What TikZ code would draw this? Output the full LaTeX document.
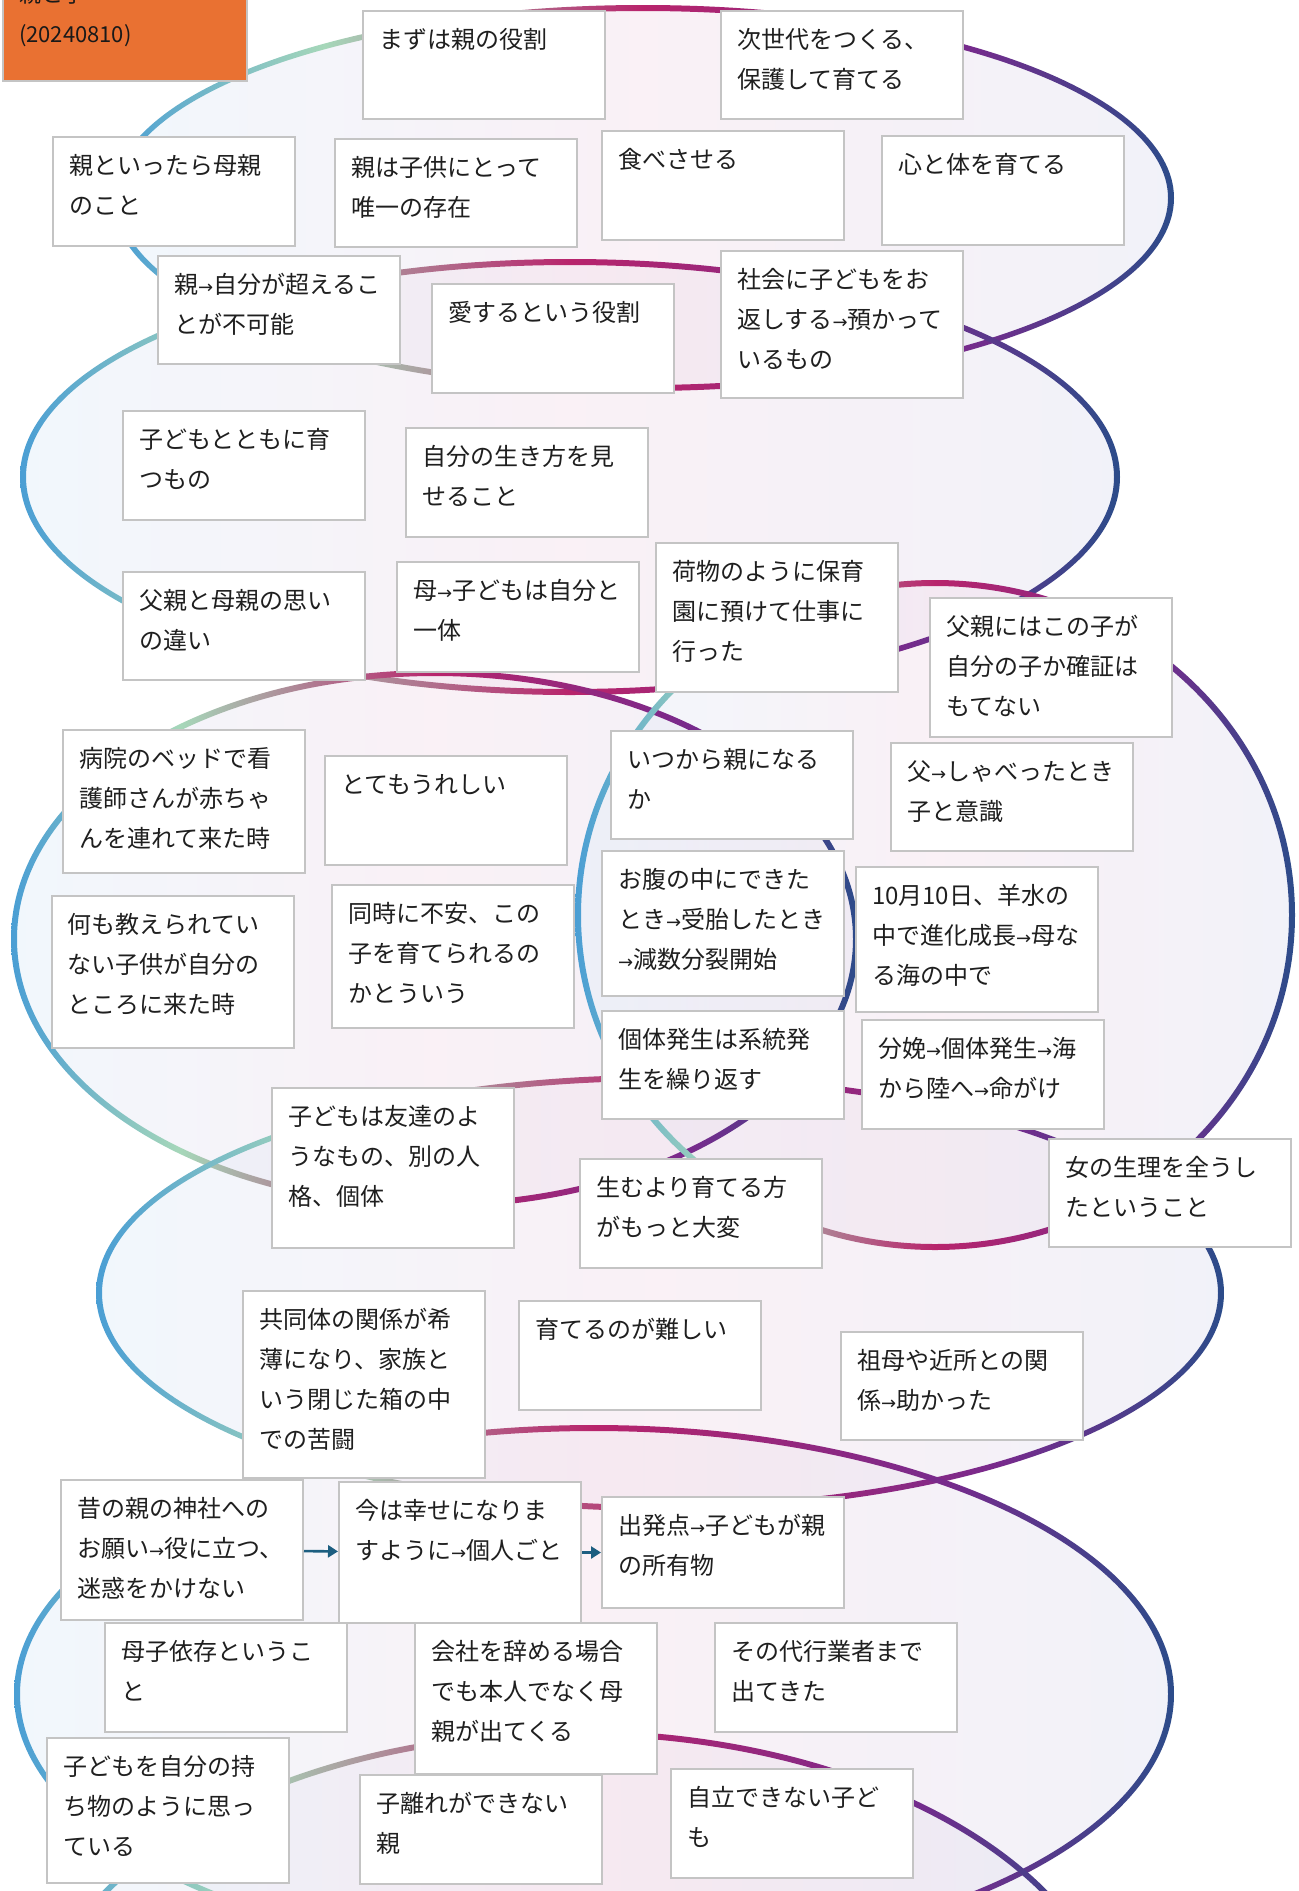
\documentclass[tikz,border=0pt]{standalone}
\usepackage{fontspec}
\setmainfont{Noto Sans CJK JP}
\newfontfamily\arrowfont{DejaVu Sans}
\usetikzlibrary{arrows.meta}
\definecolor{lc0}{RGB}{74,158,212}
\definecolor{lc1}{RGB}{166,215,185}
\definecolor{lc2}{RGB}{184,36,108}
\definecolor{lc3}{RGB}{120,42,140}
\definecolor{lc4}{RGB}{44,76,138}
\definecolor{fc0}{RGB}{226,239,250}
\definecolor{fc1}{RGB}{244,224,236}
\definecolor{fc2}{RGB}{226,228,242}
\definecolor{boxline}{RGB}{196,196,196}
\definecolor{titleorange}{RGB}{233,113,50}
\definecolor{arrowblue}{RGB}{28,94,128}
\pgfdeclarehorizontalshading{loopline}{100bp}{color(0bp)=(lc0); color(25bp)=(lc0); color(35bp)=(lc1); color(50bp)=(lc2); color(65bp)=(lc3); color(75bp)=(lc4); color(100bp)=(lc4)}
\pgfdeclarehorizontalshading{loopfill}{100bp}{color(0bp)=(fc0); color(25bp)=(fc0); color(50bp)=(fc1); color(75bp)=(fc2); color(100bp)=(fc2)}
\newcommand{\yaji}{{\arrowfont\fontsize{9pt}{9pt}\selectfont →}}
\tikzset{
  box/.style={draw=boxline, line width=1pt, fill=white, anchor=north west,
    inner xsep=8pt, inner ysep=0pt, text width=105pt, align=left,
    text height=18.6pt, font=\fontsize{12pt}{20pt}\selectfont, text=black!88},
  titlebox/.style={draw=boxline, line width=1pt, fill=titleorange, anchor=north west,
    inner xsep=8pt, inner ysep=0pt, text width=106pt, align=left,
    text height=25.7pt, text depth=39.3pt, font=\fontsize{11pt}{20pt}\selectfont, text=black!90},
  flow/.style={draw=arrowblue, line width=1.3pt, -{Triangle[length=5pt,width=6pt]}}
}
\begin{document}
\begin{tikzpicture}[x=0.5pt, y=-0.5pt]
\useasboundingbox (0,0) rectangle (1298,1891);
\fill[white] (0,0) rectangle (1298,1891);
\begin{scope}
\clip (0,0) rectangle (1298,1891);
% loop fills
\foreach \cx/\cy/\rx/\ry in {643/198/528/190, 570/477/547/215, 435/939/421/266, 935/915/357/332, 660/1293/561/215, 594/1694/577/266, 575/2056/545/323} {
  \shade[shading=loopfill, fill opacity=0.45] (\cx,\cy) ellipse [x radius=\rx*0.5pt, y radius=\ry*0.5pt];
}
% loop strokes (gradient rings)
\foreach \cx/\cy/\rx/\ry in {643/198/528/190, 570/477/547/215, 435/939/421/266, 935/915/357/332, 660/1293/561/215, 594/1694/577/266, 575/2056/545/323} {
  \shade[shading=loopline, even odd rule]
    (\cx,\cy) ellipse [x radius=\rx*0.5pt+1.5pt, y radius=\ry*0.5pt+1.5pt]
    (\cx,\cy) ellipse [x radius=\rx*0.5pt-1.5pt, y radius=\ry*0.5pt-1.5pt];
}
% title
\node[titlebox] (title) at (2,-50) {親と子\\(20240810)};
% boxes
\node[box, text depth=35.4pt] (b1) at (362,10) {まずは親の役割};
\node[box, text depth=35.4pt] (b2) at (720,10) {次世代をつくる、\\保護して育てる};
\node[box, text depth=35.9pt] (b3) at (52,136) {親といったら母親\\のこと};
\node[box, text depth=35.4pt] (b4) at (334,138) {親は子供にとって\\唯一の存在};
\node[box, text depth=35.9pt] (b5) at (601,130) {食べさせる};
\node[box, text depth=35.9pt] (b6) at (881,135) {心と体を育てる};
\node[box, text depth=35.4pt] (b7) at (157,255) {親\yaji 自分が超えるこ\\とが不可能};
\node[box, text depth=35.9pt] (b8) at (431,283) {愛するという役割};
\node[box, text depth=54.9pt] (b9) at (720,250) {社会に子どもをお\\返しする\yaji 預かって\\いるもの};
\node[box, text depth=35.9pt] (b10) at (122,410) {子どもとともに育\\つもの};
\node[box, text depth=35.9pt] (b11) at (405,427) {自分の生き方を見\\せること};
\node[box, text depth=35.4pt] (b12) at (122,571) {父親と母親の思い\\の違い};
\node[box, text depth=36.4pt] (b13) at (396,561) {母\yaji 子どもは自分と\\一体};
\node[box, text depth=55.9pt] (b14) at (655,542) {荷物のように保育\\園に預けて仕事に\\行った};
\node[box, text depth=50.9pt] (b15) at (929,597) {父親にはこの子が\\自分の子か確証は\\もてない};
\node[box, text depth=52.9pt] (b16) at (62,729) {病院のベッドで看\\護師さんが赤ちゃ\\んを連れて来た時};
\node[box, text depth=35.9pt] (b17) at (324,755) {とてもうれしい};
\node[box, text depth=35.4pt] (b18) at (610,730) {いつから親になる\\か};
\node[box, text depth=35.4pt] (b19) at (890,742) {父\yaji しゃべったとき\\子と意識};
\node[box, text depth=57.4pt] (b20) at (51,895) {何も教えられてい\\ない子供が自分の\\ところに来た時};
\node[box, text depth=52.9pt] (b21) at (331,884) {同時に不安、この\\子を育てられるの\\かとういう};
\node[box, text depth=53.9pt] (b22) at (601,850) {お腹の中にできた\\とき\yaji 受胎したとき\\\yaji 減数分裂開始};
\node[box, text depth=53.9pt] (b23) at (855,866) {10月10日、羊水の\\中で進化成長\yaji 母な\\る海の中で};
\node[box, text depth=35.4pt] (b24) at (601,1010) {個体発生は系統発\\生を繰り返す};
\node[box, text depth=35.9pt] (b25) at (861,1019) {分娩\yaji 個体発生\yaji 海\\から陸へ\yaji 命がけ};
\node[box, text depth=61.4pt] (b26) at (271,1087) {子どもは友達のよ\\うなもの、別の人\\格、個体};
\node[box, text depth=35.9pt] (b27) at (579,1158) {生むより育てる方\\がもっと大変};
\node[box, text depth=35.4pt] (b28) at (1048,1138) {女の生理を全うし\\たということ};
\node[box, text depth=74.9pt] (b29) at (242,1290) {共同体の関係が希\\薄になり、家族と\\いう閉じた箱の中\\での苦闘};
\node[box, text depth=35.9pt] (b30) at (518,1300) {育てるのが難しい};
\node[box, text depth=35.4pt] (b31) at (840,1331) {祖母や近所との関\\係\yaji 助かった};
\node[box, text depth=51.4pt] (b32) at (60,1479) {昔の親の神社への\\お願い\yaji 役に立つ、\\迷惑をかけない};
\node[box, text depth=51.9pt] (b33) at (338,1481) {今は幸せになりま\\すように\yaji 個人ごと};
\node[box, text depth=36.9pt] (b34) at (601,1496) {出発点\yaji 子どもが親\\の所有物};
\node[box, text depth=35.9pt] (b35) at (104,1622) {母子依存というこ\\と};
\node[box, text depth=56.9pt] (b36) at (414,1622) {会社を辞める場合\\でも本人でなく母\\親が出てくる};
\node[box, text depth=35.9pt] (b37) at (714,1622) {その代行業者まで\\出てきた};
\node[box, text depth=53.9pt] (b38) at (46,1737) {子どもを自分の持\\ち物のように思っ\\ている};
\node[box, text depth=35.9pt] (b39) at (359,1774) {子離れができない\\親};
\node[box, text depth=35.9pt] (b40) at (670,1768) {自立できない子ど\\も};
% connectors
\draw[flow] (b32) -- (b33);
\draw[flow] (b33) -- (b34);
\end{scope}
\end{tikzpicture}
\end{document}
